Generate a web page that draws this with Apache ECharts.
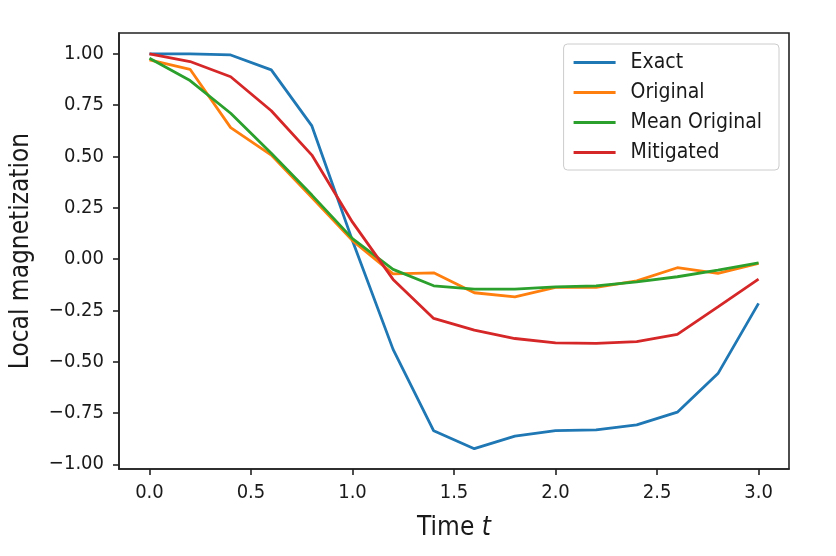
<!DOCTYPE html>
<html>
<head>
<meta charset="utf-8">
<script src="https://cdn.jsdelivr.net/npm/echarts@6/dist/echarts.min.js"></script>
<style>
  html, body { margin: 0; padding: 0; background: #fff; }
  #chart { width: 836px; height: 556px; }
</style>
</head>
<body>
<div id="chart"></div>
<script>
// 数据
const times = [0.0, 0.2, 0.4, 0.6, 0.8, 1.0, 1.2, 1.4, 1.6, 1.8, 2.0, 2.2, 2.4, 2.6, 2.8, 3.0];
const exact = [1.00, 1.00, 0.995, 0.922, 0.649, 0.09, -0.44, -0.837, -0.924, -0.863, -0.836, -0.832, -0.808, -0.746, -0.558, -0.216];
const original = [0.971, 0.925, 0.641, 0.507, 0.30, 0.09, -0.072, -0.067, -0.164, -0.184, -0.138, -0.138, -0.106, -0.042, -0.070, -0.021];
const meanOriginal = [0.979, 0.870, 0.711, 0.516, 0.312, 0.10, -0.050, -0.130, -0.146, -0.146, -0.135, -0.130, -0.111, -0.086, -0.054, -0.018];
const mitigated = [1.00, 0.963, 0.889, 0.723, 0.507, 0.18, -0.099, -0.289, -0.346, -0.387, -0.408, -0.411, -0.402, -0.367, -0.233, -0.098];
const xTicks = [0.0, 0.5, 1.0, 1.5, 2.0, 2.5, 3.0];
const yTicks = [-1.0, -0.75, -0.5, -0.25, 0.0, 0.25, 0.5, 0.75, 1.0];

const font = "'DejaVu Sans Condensed', 'DejaVu Sans'";
const ink = '#1a1a1a';

function pairs(values) {
    return times.map((t, i) => [t, values[i]]);
}

// matplotlib 风格的负号
function fmt(v, digits) {
    const s = Math.abs(v).toFixed(digits);
    return v < 0 ? '\u2212' + s : s;
}

function makeSeries(name, values, color) {
    return {
        name: name,
        type: 'line',
        data: pairs(values),
        symbol: 'none',
        color: color,
        lineStyle: { width: 2.8, color: color }
    };
}

const chart = echarts.init(document.getElementById('chart'));
chart.setOption({
    backgroundColor: '#fff',
    animation: false,
    grid: {
        left: 118, right: 47, top: 33, bottom: 87,
        show: true, borderColor: '#222', borderWidth: 1.6,
        backgroundColor: 'transparent'
    },
    legend: {
        orient: 'vertical',
        right: 57, top: 44,
        icon: 'rect',
        itemWidth: 42, itemHeight: 3, itemGap: 9,
        padding: [8, 17, 7, 10],
        borderColor: '#cccccc', borderWidth: 1, borderRadius: 4,
        backgroundColor: '#fff',
        textStyle: { fontFamily: font, fontSize: 21, color: ink, padding: [0, 0, 0, 10] },
        data: ['Exact', 'Original', 'Mean Original', 'Mitigated']
    },
    xAxis: {
        type: 'value',
        min: -0.15, max: 3.15,
        name: 'Time {i|t}',
        nameLocation: 'middle',
        nameGap: 46,
        nameTextStyle: {
            fontFamily: font, fontSize: 26, color: ink,
            rich: { i: { fontFamily: font, fontSize: 26, fontStyle: 'italic', color: ink } }
        },
        splitLine: { show: false },
        axisLine: { show: true, onZero: false, lineStyle: { color: '#222', width: 1.6 } },
        axisTick: { show: true, length: 6, customValues: xTicks, lineStyle: { color: '#222', width: 1.6 } },
        axisLabel: {
            customValues: xTicks,
            fontFamily: font, fontSize: 20, color: ink, margin: 14,
            formatter: v => fmt(v, 1)
        }
    },
    yAxis: {
        type: 'value',
        min: -1.023, max: 1.102,
        name: 'Local magnetization',
        nameLocation: 'middle',
        nameGap: 85,
        nameTextStyle: { fontFamily: font, fontSize: 26, color: ink },
        splitLine: { show: false },
        axisLine: { show: true, onZero: false, lineStyle: { color: '#222', width: 1.6 } },
        axisTick: { show: true, length: 6, customValues: yTicks, lineStyle: { color: '#222', width: 1.6 } },
        axisLabel: {
            customValues: yTicks,
            fontFamily: font, fontSize: 20, color: ink, margin: 15,
            formatter: v => fmt(v, 2)
        }
    },
    series: [
        makeSeries('Exact', exact, '#1f77b4'),
        makeSeries('Original', original, '#ff7f0e'),
        makeSeries('Mean Original', meanOriginal, '#2ca02c'),
        makeSeries('Mitigated', mitigated, '#d62728')
    ]
});
</script>
</body>
</html>
